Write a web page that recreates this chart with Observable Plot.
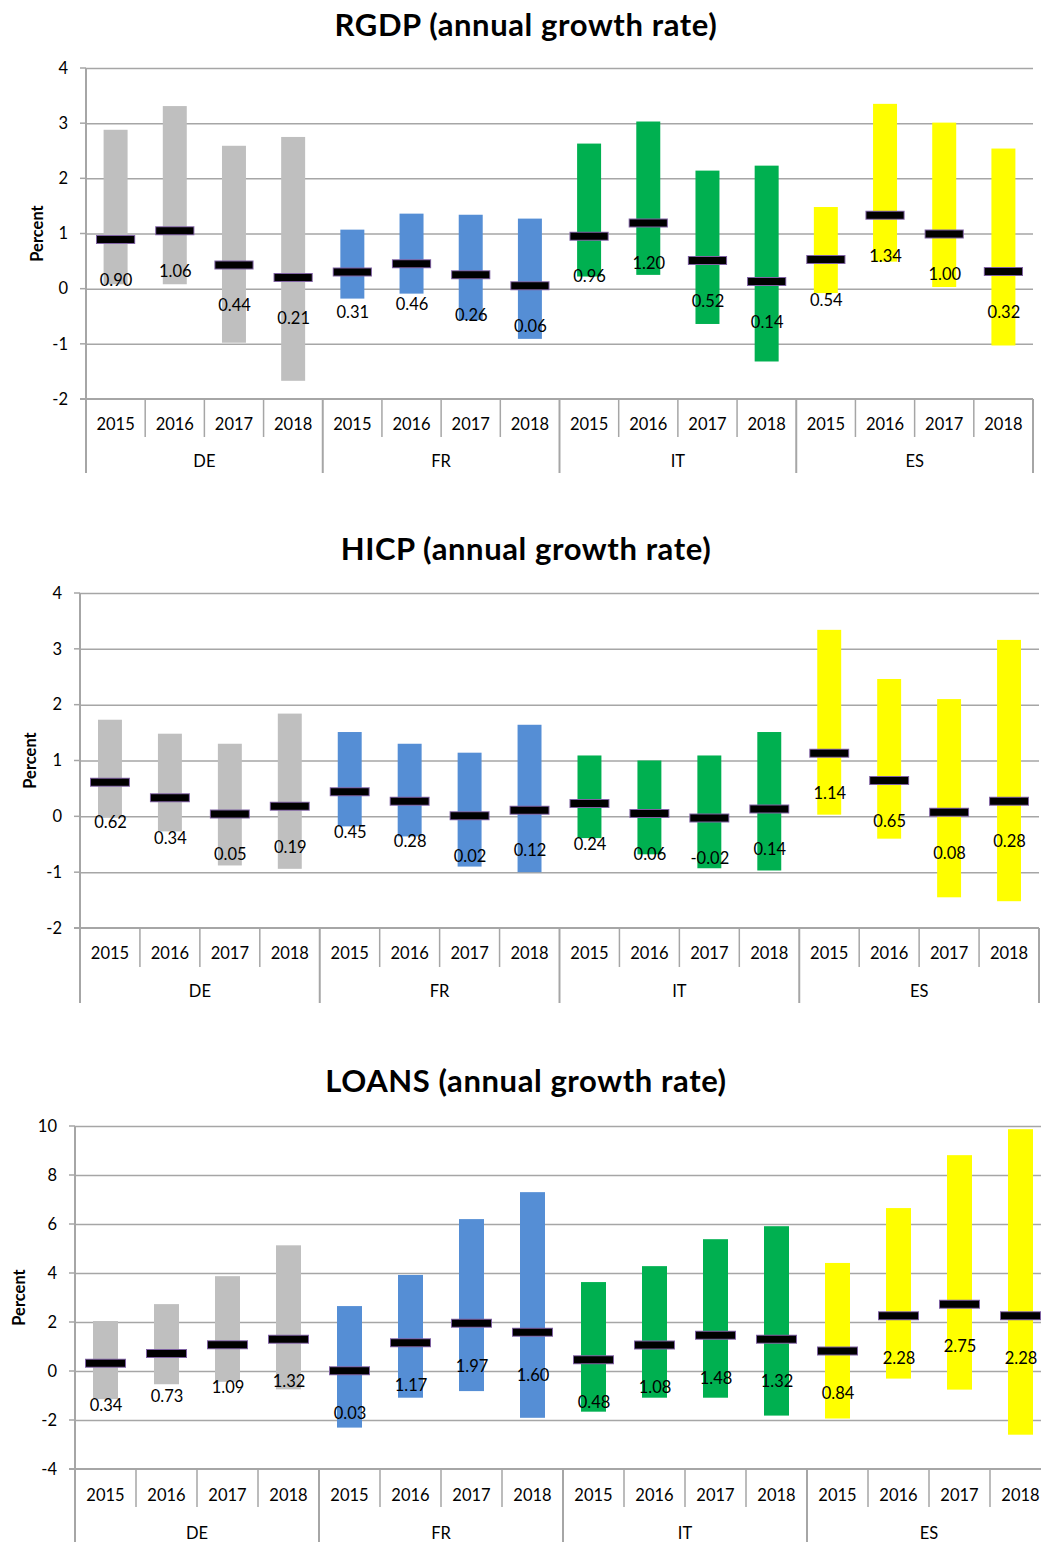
<!DOCTYPE html>
<html><head><meta charset="utf-8">
<script src="https://cdn.jsdelivr.net/npm/d3@7"></script>
<script src="https://cdn.jsdelivr.net/npm/@observablehq/plot@0.6"></script>
<style>
html,body{margin:0;padding:0;background:#fff;overflow:hidden;width:1041px;height:1542px;}
body{position:relative;font-family:Lato,"Open Sans",sans-serif;}
.title{position:absolute;left:0;width:1052px;text-align:center;font-weight:bold;font-size:31px;letter-spacing:0.6px;color:#000;line-height:30px;height:30px;white-space:nowrap;}
.panel{position:absolute;left:0;}
.panel svg{overflow:visible;display:block;max-width:none !important;}
</style></head><body>
<script>
// ---------- data ----------
const countries = ["DE", "FR", "IT", "ES"];
const years = ["2015", "2016", "2017", "2018"];
const countryColors = ["#bfbfbf", "#558ed5", "#00b050", "#ffff00"];

const rgdpTitle = "RGDP (annual growth rate)";
const rgdpMedian = [0.90, 1.06, 0.44, 0.21, 0.31, 0.46, 0.26, 0.06, 0.96, 1.20, 0.52, 0.14, 0.54, 1.34, 1.00, 0.32];
const rgdpLow    = [0.08, 0.08, -0.98, -1.67, -0.18, -0.09, -0.57, -0.91, 0.22, 0.25, -0.64, -1.32, -0.08, 0.49, 0.03, -1.03];
const rgdpHigh   = [2.88, 3.31, 2.59, 2.75, 1.07, 1.36, 1.34, 1.27, 2.63, 3.03, 2.14, 2.23, 1.48, 3.35, 3.01, 2.54];
const rgdpTicks  = [-2, -1, 0, 1, 2, 3, 4];

const hicpTitle = "HICP (annual growth rate)";
const hicpMedian = [0.62, 0.34, 0.05, 0.19, 0.45, 0.28, 0.02, 0.12, 0.24, 0.06, -0.02, 0.14, 1.14, 0.65, 0.08, 0.28];
const hicpLow    = [-0.02, -0.27, -0.88, -0.94, -0.18, -0.36, -0.90, -1.00, -0.39, -0.68, -0.93, -0.97, 0.03, -0.40, -1.45, -1.52];
const hicpHigh   = [1.73, 1.48, 1.30, 1.84, 1.51, 1.30, 1.14, 1.64, 1.09, 1.00, 1.09, 1.51, 3.34, 2.46, 2.10, 3.16];
const hicpTicks  = [-2, -1, 0, 1, 2, 3, 4];

const loansTitle = "LOANS (annual growth rate)";
const loansMedian = [0.34, 0.73, 1.09, 1.32, 0.03, 1.17, 1.97, 1.60, 0.48, 1.08, 1.48, 1.32, 0.84, 2.28, 2.75, 2.28];
const loansLow    = [-1.15, -0.54, -0.44, -0.75, -2.31, -1.09, -0.82, -1.91, -1.66, -1.09, -1.09, -1.82, -1.94, -0.31, -0.76, -2.60];
const loansHigh   = [2.04, 2.73, 3.87, 5.13, 2.65, 3.92, 6.20, 7.30, 3.63, 4.28, 5.38, 5.91, 4.41, 6.65, 8.81, 9.87];
const loansTicks  = [-4, -2, 0, 2, 4, 6, 8, 10];

const yLabel = "Percent";

// ---------- layout ----------
const layouts = [
  {title: rgdpTitle, med: rgdpMedian, low: rgdpLow, high: rgdpHigh, ticks: rgdpTicks,
   titleY: 24, top: 45, width: 1041, height: 435, ml: 86, mr: 8, mt: 23, mb: 81,
   barInset: 17.6, markInset: 10, labelDy: 41, yearDy: 25, countryDy: 62, shortSep: 38, longSep: 74, percentX: 37},
  {title: hicpTitle, med: hicpMedian, low: hicpLow, high: hicpHigh, ticks: hicpTicks,
   titleY: 548, top: 570, width: 1041, height: 440, ml: 80, mr: 2, mt: 23, mb: 82,
   barInset: 18, markInset: 10, labelDy: 41, yearDy: 25, countryDy: 63, shortSep: 39, longSep: 75, percentX: 30},
  {title: loansTitle, med: loansMedian, low: loansLow, high: loansHigh, ticks: loansTicks,
   titleY: 1080, top: 1100, width: 1051, height: 442, ml: 75, mr: 0, mt: 26, mb: 73,
   barInset: 18, markInset: 10, labelDy: 43, yearDy: 26, countryDy: 64, shortSep: 38, longSep: 73, percentX: 19}
];

const gridColor = "#a6a6a6";
const FONT = "Lato, 'Open Sans', sans-serif";
const FS = 16.5;

function axesMark(L, keys) {
  return (index, scales, values, dimensions) => {
    const x = scales.x, y = scales.y;
    const bw = x.bandwidth();
    const {width, height, marginLeft: ml, marginRight: mr, marginTop: mt, marginBottom: mb} = dimensions;
    const bottom = height - mb;
    const g = d3.create("svg:g").attr("font-family", FONT).attr("font-size", FS);
    for (const t of L.ticks) {
      g.append("line").attr("x1", ml - 6).attr("x2", ml).attr("y1", y(t)).attr("y2", y(t))
        .attr("stroke", gridColor).attr("stroke-width", 1.5);
      g.append("text").attr("x", ml - 18).attr("y", y(t)).attr("dy", "0.35em")
        .attr("text-anchor", "end").attr("fill", "#000").text(String(t));
    }
    g.append("line").attr("x1", ml - 6).attr("x2", width - mr).attr("y1", bottom).attr("y2", bottom)
      .attr("stroke", gridColor).attr("stroke-width", 2);
    g.append("line").attr("x1", ml).attr("x2", ml).attr("y1", mt).attr("y2", bottom)
      .attr("stroke", gridColor).attr("stroke-width", 2);
    for (let i = 0; i <= keys.length; i++) {
      const xx = i < keys.length ? x(keys[i]) : x(keys[keys.length - 1]) + bw;
      const long = i % years.length === 0;
      g.append("line").attr("x1", xx).attr("x2", xx).attr("y1", bottom)
        .attr("y2", bottom + (long ? L.longSep : L.shortSep))
        .attr("stroke", gridColor).attr("stroke-width", long ? 2 : 1.5);
    }
    keys.forEach((k, i) => {
      g.append("text").attr("x", x(k) + bw / 2).attr("y", bottom + L.yearDy).attr("dy", "0.35em")
        .attr("text-anchor", "middle").attr("fill", "#000").text(years[i % years.length]);
    });
    countries.forEach((c, j) => {
      const k = keys[j * years.length];
      g.append("text").attr("x", x(k) + bw * years.length / 2).attr("y", bottom + L.countryDy).attr("dy", "0.35em")
        .attr("text-anchor", "middle").attr("fill", "#000").text(c);
    });
    const cy = (mt + bottom) / 2;
    g.append("text").attr("transform", `translate(${L.percentX},${cy}) rotate(-90)`)
      .attr("text-anchor", "middle").attr("dy", "0.35em").attr("font-weight", "bold")
      .attr("fill", "#000").text(yLabel);
    return g.node();
  };
}

for (const L of layouts) {
  const keys = [];
  countries.forEach(c => years.forEach(yv => keys.push(c + " " + yv)));
  const rows = keys.map((k, i) => ({
    key: k, country: countries[Math.floor(i / years.length)], year: years[i % years.length],
    low: L.low[i], high: L.high[i], med: L.med[i]
  }));

  const t = document.createElement("div");
  t.className = "title";
  t.style.top = (L.titleY - 15) + "px";
  t.textContent = L.title;
  document.body.appendChild(t);

  const chart = Plot.plot({
    width: L.width, height: L.height,
    marginLeft: L.ml, marginRight: L.mr, marginTop: L.mt, marginBottom: L.mb,
    style: {fontFamily: FONT, fontSize: FS + "px", background: "transparent", overflow: "visible", color: "#000", maxWidth: "none"},
    x: {type: "band", domain: keys, padding: 0, round: false, axis: null},
    y: {domain: [L.ticks[0], L.ticks[L.ticks.length - 1]], axis: null},
    color: {domain: countries, range: countryColors},
    marks: [
      Plot.ruleY(L.ticks.slice(1), {stroke: gridColor, strokeWidth: 1.5}),
      Plot.barY(rows, {x: "key", y1: "low", y2: "high", fill: "country", insetLeft: L.barInset, insetRight: L.barInset}),
      Plot.tickY(rows, {x: "key", y: "med", stroke: "#7f62a2", strokeWidth: 9, insetLeft: L.markInset, insetRight: L.markInset}),
      Plot.tickY(rows, {x: "key", y: "med", stroke: "#000", strokeWidth: 7, insetLeft: L.markInset + 1, insetRight: L.markInset + 1}),
      Plot.text(rows, {x: "key", y: "med", text: d => d.med.toFixed(2), dy: L.labelDy, fill: "#000", fontSize: FS, fontFamily: FONT}),
      axesMark(L, keys)
    ]
  });
  chart.style.maxWidth = "none";
  chart.style.width = L.width + "px";
  chart.style.height = L.height + "px";
  const wrap = document.createElement("div");
  wrap.className = "panel";
  wrap.style.top = L.top + "px";
  wrap.appendChild(chart);
  document.body.appendChild(wrap);
}
</script>
</body></html>
